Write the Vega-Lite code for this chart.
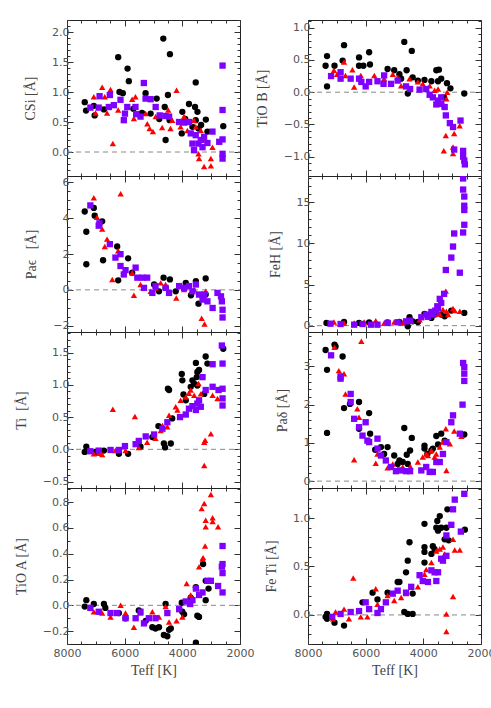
{
"$schema":"https://vega.github.io/schema/vega-lite/v6.json",
"padding":{"left":13,"top":13,"right":0,"bottom":0},
"background":"white",
"config":{
 "view":{"stroke":"#222","strokeWidth":1},
 "axis":{"domain":false,"grid":false,"labelFont":"DejaVu Sans","labelFontSize":11,"labelColor":"#555","labelFlush":false,"labelOverlap":false,"labelBound":false,"titleFont":"Liberation Serif","titleFontSize":14,"titleFontWeight":"normal","titleColor":"#444","tickColor":"#333","tickWidth":1},
 "axisX":{"labelPadding":9,"titlePadding":2},
 "axisY":{"labelPadding":4,"titlePadding":14}
},
"datasets":{
"csi":[
{"s":"A","t":7385,"v":0.83},{"s":"A","t":7340,"v":0.69},{"s":"A","t":7070,"v":0.77},{"s":"A","t":7040,"v":0.61},{"s":"A","t":6720,"v":0.71},{"s":"A","t":6225,"v":1.58},{"s":"A","t":6180,"v":1.0},{"s":"A","t":6065,"v":0.98},{"s":"A","t":5900,"v":1.39},{"s":"A","t":5855,"v":1.18},{"s":"A","t":5700,"v":0.72},{"s":"A","t":5400,"v":0.65},{"s":"A","t":5275,"v":0.98},{"s":"A","t":5100,"v":0.64},{"s":"A","t":4890,"v":0.89},{"s":"A","t":4800,"v":0.55},{"s":"A","t":4660,"v":1.89},{"s":"A","t":4610,"v":0.75},{"s":"A","t":4580,"v":0.2},{"s":"A","t":4500,"v":0.95},{"s":"A","t":4440,"v":0.53},{"s":"A","t":4430,"v":1.63},{"s":"A","t":4020,"v":0.31},{"s":"A","t":4000,"v":0.67},{"s":"A","t":3900,"v":0.55},{"s":"A","t":3770,"v":0.8},{"s":"A","t":3650,"v":0.42},{"s":"A","t":3560,"v":0.75},{"s":"A","t":3535,"v":1.16},{"s":"A","t":3535,"v":0.53},{"s":"A","t":3475,"v":0.67},{"s":"A","t":3440,"v":0.39},{"s":"A","t":3350,"v":0.45},{"s":"A","t":3185,"v":0.54},{"s":"A","t":3130,"v":0.34},{"s":"A","t":2580,"v":0.43},
{"s":"B","t":7070,"v":0.92},{"s":"B","t":7010,"v":0.65},{"s":"B","t":6780,"v":1.08},{"s":"B","t":6690,"v":0.92},{"s":"B","t":6610,"v":0.65},{"s":"B","t":6490,"v":1.04},{"s":"B","t":6410,"v":0.14},{"s":"B","t":6225,"v":0.7},{"s":"B","t":5740,"v":0.88},{"s":"B","t":5680,"v":0.56},{"s":"B","t":5625,"v":0.92},{"s":"B","t":5275,"v":0.64},{"s":"B","t":5215,"v":0.47},{"s":"B","t":5135,"v":0.39},{"s":"B","t":5020,"v":0.34},{"s":"B","t":4925,"v":0.59},{"s":"B","t":4810,"v":0.61},{"s":"B","t":4700,"v":0.41},{"s":"B","t":4490,"v":0.7},{"s":"B","t":4410,"v":0.39},{"s":"B","t":4350,"v":0.53},{"s":"B","t":4200,"v":1.03},{"s":"B","t":4060,"v":0.42},{"s":"B","t":3940,"v":0.59},{"s":"B","t":3825,"v":0.36},{"s":"B","t":3595,"v":0.53},{"s":"B","t":3535,"v":0.42},{"s":"B","t":3440,"v":-0.03},{"s":"B","t":3420,"v":-0.11},{"s":"B","t":3360,"v":0.36},{"s":"B","t":3280,"v":0.2},{"s":"B","t":3245,"v":-0.24},{"s":"B","t":3010,"v":-0.23},{"s":"B","t":3010,"v":-0.11},{"s":"B","t":2955,"v":0.08},
{"s":"C","t":7190,"v":0.74},{"s":"C","t":6900,"v":0.74},{"s":"C","t":6870,"v":0.93},{"s":"C","t":6550,"v":0.75},{"s":"C","t":6515,"v":0.95},{"s":"C","t":6375,"v":0.78},{"s":"C","t":6145,"v":0.87},{"s":"C","t":6030,"v":0.53},{"s":"C","t":5990,"v":0.64},{"s":"C","t":5910,"v":0.75},{"s":"C","t":5625,"v":0.75},{"s":"C","t":5600,"v":0.63},{"s":"C","t":5450,"v":0.59},{"s":"C","t":5335,"v":1.15},{"s":"C","t":5275,"v":0.89},{"s":"C","t":5100,"v":0.88},{"s":"C","t":4925,"v":0.75},{"s":"C","t":4785,"v":0.61},{"s":"C","t":4580,"v":0.6},{"s":"C","t":4460,"v":0.59},{"s":"C","t":4115,"v":0.5},{"s":"C","t":3940,"v":0.49},{"s":"C","t":3770,"v":0.5},{"s":"C","t":3710,"v":0.31},{"s":"C","t":3650,"v":0.14},{"s":"C","t":3595,"v":0.03},{"s":"C","t":3535,"v":0.28},{"s":"C","t":3440,"v":0.14},{"s":"C","t":3360,"v":0.2},{"s":"C","t":3300,"v":0.08},{"s":"C","t":3245,"v":0.25},{"s":"C","t":3130,"v":0.15},{"s":"C","t":2955,"v":0.34},{"s":"C","t":2720,"v":0.17},{"s":"C","t":2605,"v":-0.03},{"s":"C","t":2605,"v":-0.11},{"s":"C","t":2605,"v":0.21},{"s":"C","t":2605,"v":0.7},{"s":"C","t":2605,"v":1.44}
],
"tiob":[
{"s":"A","t":7390,"v":0.41},{"s":"A","t":7340,"v":0.56},{"s":"A","t":7340,"v":0.09},{"s":"A","t":7080,"v":0.41},{"s":"A","t":6800,"v":0.49},{"s":"A","t":6750,"v":0.73},{"s":"A","t":6230,"v":0.54},{"s":"A","t":6230,"v":0.41},{"s":"A","t":6080,"v":0.41},{"s":"A","t":5880,"v":0.62},{"s":"A","t":5850,"v":0.43},{"s":"A","t":5240,"v":0.36},{"s":"A","t":5010,"v":0.34},{"s":"A","t":4830,"v":0.28},{"s":"A","t":4770,"v":0.21},{"s":"A","t":4660,"v":0.78},{"s":"A","t":4580,"v":0.34},{"s":"A","t":4540,"v":-0.02},{"s":"A","t":4400,"v":0.64},{"s":"A","t":4370,"v":0.23},{"s":"A","t":4190,"v":0.18},{"s":"A","t":3960,"v":0.19},{"s":"A","t":3720,"v":0.17},{"s":"A","t":3550,"v":0.34},{"s":"A","t":3490,"v":0.17},{"s":"A","t":3460,"v":0.35},{"s":"A","t":3380,"v":0.21},{"s":"A","t":3280,"v":-0.08},{"s":"A","t":3180,"v":0.14},{"s":"A","t":3060,"v":0.06},{"s":"A","t":2580,"v":-0.02},
{"s":"B","t":7100,"v":0.34},{"s":"B","t":6990,"v":0.28},{"s":"B","t":6750,"v":0.47},{"s":"B","t":6700,"v":0.26},{"s":"B","t":6460,"v":0.35},{"s":"B","t":6400,"v":0.08},{"s":"B","t":6170,"v":0.26},{"s":"B","t":5700,"v":0.26},{"s":"B","t":5360,"v":0.21},{"s":"B","t":5060,"v":0.28},{"s":"B","t":4890,"v":0.23},{"s":"B","t":4770,"v":0.1},{"s":"B","t":4480,"v":0.21},{"s":"B","t":4190,"v":0.16},{"s":"B","t":4020,"v":0.13},{"s":"B","t":3780,"v":0.1},{"s":"B","t":3610,"v":0.03},{"s":"B","t":3490,"v":0.05},{"s":"B","t":3380,"v":-0.08},{"s":"B","t":3280,"v":-0.21},{"s":"B","t":3290,"v":-0.91},{"s":"B","t":3220,"v":-0.67},{"s":"B","t":3200,"v":-0.1},{"s":"B","t":3170,"v":0.0},{"s":"B","t":2970,"v":-0.85},{"s":"B","t":2970,"v":-0.95},{"s":"B","t":2930,"v":-0.64},{"s":"B","t":2740,"v":-0.52},
{"s":"C","t":7200,"v":0.25},{"s":"C","t":6870,"v":0.31},{"s":"C","t":6870,"v":0.21},{"s":"C","t":6520,"v":0.21},{"s":"C","t":6230,"v":0.21},{"s":"C","t":6150,"v":0.16},{"s":"C","t":6000,"v":0.09},{"s":"C","t":5880,"v":0.16},{"s":"C","t":5590,"v":0.17},{"s":"C","t":5380,"v":0.13},{"s":"C","t":5360,"v":0.26},{"s":"C","t":5120,"v":0.13},{"s":"C","t":4890,"v":0.18},{"s":"C","t":4600,"v":0.09},{"s":"C","t":4460,"v":0.05},{"s":"C","t":4130,"v":0.04},{"s":"C","t":3900,"v":0.05},{"s":"C","t":3780,"v":-0.04},{"s":"C","t":3670,"v":-0.08},{"s":"C","t":3550,"v":-0.19},{"s":"C","t":3490,"v":-0.13},{"s":"C","t":3380,"v":-0.18},{"s":"C","t":3380,"v":-0.08},{"s":"C","t":3260,"v":-0.23},{"s":"C","t":3220,"v":-0.36},{"s":"C","t":3080,"v":-0.48},{"s":"C","t":2970,"v":-0.54},{"s":"C","t":2930,"v":-0.89},{"s":"C","t":2710,"v":-0.44},{"s":"C","t":2620,"v":-0.91},{"s":"C","t":2620,"v":-1.0},{"s":"C","t":2580,"v":-1.06},{"s":"C","t":2560,"v":-1.12}
],
"pae":[
{"s":"A","t":7385,"v":4.37},{"s":"A","t":7330,"v":3.24},{"s":"A","t":7330,"v":1.43},{"s":"A","t":7070,"v":4.57},{"s":"A","t":7040,"v":4.14},{"s":"A","t":6780,"v":3.82},{"s":"A","t":6750,"v":1.65},{"s":"A","t":6260,"v":2.42},{"s":"A","t":6225,"v":0.53},{"s":"A","t":5880,"v":1.76},{"s":"A","t":5740,"v":0.96},{"s":"A","t":4980,"v":0.3},{"s":"A","t":4810,"v":-0.08},{"s":"A","t":4650,"v":0.68},{"s":"A","t":4580,"v":0.11},{"s":"A","t":4430,"v":0.58},{"s":"A","t":4230,"v":-0.08},{"s":"A","t":3880,"v":0.39},{"s":"A","t":3700,"v":-0.3},{"s":"A","t":3530,"v":0.49},{"s":"A","t":3440,"v":-0.77},{"s":"A","t":3190,"v":0.64},{"s":"A","t":3190,"v":-0.26},
{"s":"B","t":7070,"v":5.14},{"s":"B","t":6960,"v":4.05},{"s":"B","t":6780,"v":3.39},{"s":"B","t":6690,"v":2.42},{"s":"B","t":6610,"v":2.83},{"s":"B","t":6430,"v":0.58},{"s":"B","t":6225,"v":2.18},{"s":"B","t":6140,"v":5.36},{"s":"B","t":5740,"v":0.96},{"s":"B","t":5680,"v":-0.3},{"s":"B","t":5450,"v":0.3},{"s":"B","t":5100,"v":-0.08},{"s":"B","t":4930,"v":0.11},{"s":"B","t":4750,"v":0.39},{"s":"B","t":4580,"v":0.3},{"s":"B","t":4210,"v":-0.45},{"s":"B","t":3940,"v":0.02},{"s":"B","t":3590,"v":0.02},{"s":"B","t":3420,"v":-0.26},{"s":"B","t":3330,"v":-1.58},{"s":"B","t":3230,"v":-1.91},{"s":"B","t":3190,"v":-0.08},
{"s":"C","t":7190,"v":4.71},{"s":"C","t":6900,"v":3.58},{"s":"C","t":6875,"v":3.71},{"s":"C","t":6515,"v":2.55},{"s":"C","t":6320,"v":1.8},{"s":"C","t":6145,"v":1.99},{"s":"C","t":6145,"v":1.33},{"s":"C","t":6030,"v":0.86},{"s":"C","t":5970,"v":1.1},{"s":"C","t":5620,"v":1.24},{"s":"C","t":5560,"v":0.68},{"s":"C","t":5390,"v":0.68},{"s":"C","t":5330,"v":0.11},{"s":"C","t":5220,"v":0.68},{"s":"C","t":5040,"v":-0.17},{"s":"C","t":4930,"v":0.21},{"s":"C","t":4580,"v":0.11},{"s":"C","t":4460,"v":-0.17},{"s":"C","t":4110,"v":0.21},{"s":"C","t":3940,"v":0.11},{"s":"C","t":3770,"v":0.21},{"s":"C","t":3650,"v":-0.08},{"s":"C","t":3530,"v":0.3},{"s":"C","t":3420,"v":-0.26},{"s":"C","t":3300,"v":-0.54},{"s":"C","t":3240,"v":-0.26},{"s":"C","t":3130,"v":-0.64},{"s":"C","t":2950,"v":-1.01},{"s":"C","t":2780,"v":-0.17},{"s":"C","t":2660,"v":-0.36},{"s":"C","t":2630,"v":-0.64},{"s":"C","t":2605,"v":-1.11},{"s":"C","t":2605,"v":-1.54}
],
"feh":[
{"s":"A","t":7360,"v":0.33},{"s":"A","t":6750,"v":0.45},{"s":"A","t":6230,"v":0.33},{"s":"A","t":5880,"v":0.41},{"s":"A","t":5240,"v":0.41},{"s":"A","t":4830,"v":0.45},{"s":"A","t":4540,"v":-0.08},{"s":"A","t":4480,"v":1.02},{"s":"A","t":4370,"v":0.53},{"s":"A","t":4190,"v":0.45},{"s":"A","t":3960,"v":1.43},{"s":"A","t":3720,"v":0.94},{"s":"A","t":3610,"v":1.35},{"s":"A","t":3380,"v":1.35},{"s":"A","t":3260,"v":1.14},{"s":"A","t":3030,"v":1.83},{"s":"A","t":2580,"v":1.55},
{"s":"B","t":7100,"v":0.45},{"s":"B","t":6750,"v":0.33},{"s":"B","t":6400,"v":0.33},{"s":"B","t":6055,"v":0.45},{"s":"B","t":5650,"v":0.61},{"s":"B","t":5360,"v":0.33},{"s":"B","t":5010,"v":0.45},{"s":"B","t":4715,"v":0.33},{"s":"B","t":4420,"v":0.53},{"s":"B","t":4130,"v":0.73},{"s":"B","t":3840,"v":1.02},{"s":"B","t":3610,"v":1.35},{"s":"B","t":3430,"v":1.43},{"s":"B","t":3320,"v":1.96},{"s":"B","t":3220,"v":4.2},{"s":"B","t":3200,"v":1.75},{"s":"B","t":3140,"v":1.35},{"s":"B","t":2970,"v":2.08},{"s":"B","t":2910,"v":1.83},{"s":"B","t":2735,"v":1.75},
{"s":"C","t":7220,"v":0.24},{"s":"C","t":6870,"v":0.2},{"s":"C","t":6400,"v":0.12},{"s":"C","t":6110,"v":0.2},{"s":"C","t":5820,"v":0.12},{"s":"C","t":5590,"v":0.12},{"s":"C","t":5240,"v":0.33},{"s":"C","t":4890,"v":0.41},{"s":"C","t":4600,"v":0.53},{"s":"C","t":4460,"v":0.61},{"s":"C","t":4070,"v":1.02},{"s":"C","t":3900,"v":1.35},{"s":"C","t":3840,"v":1.14},{"s":"C","t":3720,"v":1.67},{"s":"C","t":3670,"v":1.43},{"s":"C","t":3585,"v":1.83},{"s":"C","t":3550,"v":1.75},{"s":"C","t":3515,"v":2.36},{"s":"C","t":3490,"v":2.16},{"s":"C","t":3430,"v":3.26},{"s":"C","t":3380,"v":2.77},{"s":"C","t":3280,"v":3.87},{"s":"C","t":3220,"v":6.77},{"s":"C","t":3030,"v":8.28},{"s":"C","t":2970,"v":9.62},{"s":"C","t":2930,"v":11.21},{"s":"C","t":2735,"v":6.44},{"s":"C","t":2620,"v":11.33},{"s":"C","t":2580,"v":12.27},{"s":"C","t":2580,"v":14.06},{"s":"C","t":2580,"v":14.59},{"s":"C","t":2580,"v":15.7},{"s":"C","t":2620,"v":16.55},{"s":"C","t":2620,"v":17.9}
],
"ti":[
{"s":"A","t":7385,"v":-0.04},{"s":"A","t":7330,"v":0.04},{"s":"A","t":7010,"v":-0.04},{"s":"A","t":6720,"v":-0.02},{"s":"A","t":6200,"v":-0.07},{"s":"A","t":5880,"v":-0.07},{"s":"A","t":5450,"v":0.04},{"s":"A","t":5040,"v":0.19},{"s":"A","t":4830,"v":0.36},{"s":"A","t":4640,"v":0.09},{"s":"A","t":4600,"v":0.03},{"s":"A","t":4500,"v":0.94},{"s":"A","t":4460,"v":0.92},{"s":"A","t":4400,"v":0.09},{"s":"A","t":4350,"v":0.48},{"s":"A","t":4020,"v":1.17},{"s":"A","t":4000,"v":1.07},{"s":"A","t":3960,"v":0.85},{"s":"A","t":3880,"v":0.76},{"s":"A","t":3710,"v":0.97},{"s":"A","t":3650,"v":1.07},{"s":"A","t":3590,"v":1.02},{"s":"A","t":3530,"v":1.34},{"s":"A","t":3500,"v":1.12},{"s":"A","t":3480,"v":0.99},{"s":"A","t":3480,"v":1.2},{"s":"A","t":3420,"v":1.23},{"s":"A","t":3240,"v":0.86},{"s":"A","t":3190,"v":1.44},{"s":"A","t":3130,"v":1.33},{"s":"A","t":2580,"v":1.56},
{"s":"B","t":7070,"v":-0.07},{"s":"B","t":6900,"v":-0.06},{"s":"B","t":6780,"v":-0.08},{"s":"B","t":6410,"v":0.62},{"s":"B","t":6320,"v":-0.02},{"s":"B","t":5970,"v":-0.02},{"s":"B","t":5645,"v":0.51},{"s":"B","t":5510,"v":0.03},{"s":"B","t":5220,"v":0.11},{"s":"B","t":4930,"v":0.17},{"s":"B","t":4750,"v":0.29},{"s":"B","t":4690,"v":0.37},{"s":"B","t":4520,"v":0.35},{"s":"B","t":4460,"v":0.53},{"s":"B","t":4230,"v":0.66},{"s":"B","t":4170,"v":0.61},{"s":"B","t":4060,"v":0.76},{"s":"B","t":3880,"v":0.81},{"s":"B","t":3770,"v":0.87},{"s":"B","t":3710,"v":0.92},{"s":"B","t":3590,"v":0.84},{"s":"B","t":3440,"v":1.02},{"s":"B","t":3360,"v":0.86},{"s":"B","t":3240,"v":0.11},{"s":"B","t":3210,"v":0.14},{"s":"B","t":3240,"v":-0.25},{"s":"B","t":3010,"v":0.24},{"s":"B","t":2950,"v":0.84},{"s":"B","t":2780,"v":0.79},
{"s":"C","t":7190,"v":-0.03},{"s":"C","t":6900,"v":-0.02},{"s":"C","t":6490,"v":-0.01},{"s":"C","t":6200,"v":-0.01},{"s":"C","t":5990,"v":0.05},{"s":"C","t":5620,"v":0.08},{"s":"C","t":5510,"v":0.13},{"s":"C","t":5270,"v":0.2},{"s":"C","t":4980,"v":0.23},{"s":"C","t":4690,"v":0.32},{"s":"C","t":4520,"v":0.42},{"s":"C","t":4080,"v":0.5},{"s":"C","t":3880,"v":0.54},{"s":"C","t":3770,"v":0.63},{"s":"C","t":3650,"v":0.67},{"s":"C","t":3530,"v":0.61},{"s":"C","t":3480,"v":0.71},{"s":"C","t":3420,"v":0.76},{"s":"C","t":3360,"v":0.66},{"s":"C","t":3300,"v":1.12},{"s":"C","t":3190,"v":0.92},{"s":"C","t":2950,"v":1.32},{"s":"C","t":2950,"v":0.97},{"s":"C","t":2745,"v":0.92},{"s":"C","t":2630,"v":1.61},{"s":"C","t":2605,"v":1.33},{"s":"C","t":2605,"v":0.94},{"s":"C","t":2605,"v":0.79},{"s":"C","t":2605,"v":0.68}
],
"pad":[
{"s":"A","t":7390,"v":3.43},{"s":"A","t":7340,"v":2.91},{"s":"A","t":7340,"v":1.26},{"s":"A","t":7080,"v":3.57},{"s":"A","t":7045,"v":3.52},{"s":"A","t":6800,"v":3.26},{"s":"A","t":6750,"v":1.91},{"s":"A","t":6545,"v":2.02},{"s":"A","t":6230,"v":2.07},{"s":"A","t":6230,"v":1.37},{"s":"A","t":5880,"v":1.78},{"s":"A","t":5845,"v":1.24},{"s":"A","t":5670,"v":0.82},{"s":"A","t":5470,"v":0.89},{"s":"A","t":5360,"v":0.71},{"s":"A","t":5240,"v":0.89},{"s":"A","t":5010,"v":0.67},{"s":"A","t":4890,"v":0.45},{"s":"A","t":4830,"v":0.54},{"s":"A","t":4715,"v":0.5},{"s":"A","t":4660,"v":1.39},{"s":"A","t":4575,"v":0.69},{"s":"A","t":4540,"v":0.45},{"s":"A","t":4460,"v":0.8},{"s":"A","t":4400,"v":1.13},{"s":"A","t":3960,"v":0.93},{"s":"A","t":3960,"v":0.85},{"s":"A","t":3860,"v":0.71},{"s":"A","t":3720,"v":0.8},{"s":"A","t":3670,"v":0.85},{"s":"A","t":3550,"v":1.18},{"s":"A","t":3490,"v":0.96},{"s":"A","t":3380,"v":1.24},{"s":"A","t":3260,"v":1.06},{"s":"A","t":2580,"v":1.22},
{"s":"B","t":7080,"v":3.5},{"s":"B","t":6930,"v":2.89},{"s":"B","t":6870,"v":2.72},{"s":"B","t":6750,"v":2.81},{"s":"B","t":6700,"v":2.28},{"s":"B","t":6400,"v":0.56},{"s":"B","t":6290,"v":1.89},{"s":"B","t":6230,"v":1.67},{"s":"B","t":6150,"v":3.66},{"s":"B","t":5650,"v":0.47},{"s":"B","t":5590,"v":0.71},{"s":"B","t":5240,"v":0.35},{"s":"B","t":5060,"v":0.45},{"s":"B","t":4890,"v":0.32},{"s":"B","t":4715,"v":0.37},{"s":"B","t":4450,"v":0.38},{"s":"B","t":4190,"v":0.5},{"s":"B","t":4020,"v":0.63},{"s":"B","t":3900,"v":0.71},{"s":"B","t":3840,"v":0.67},{"s":"B","t":3720,"v":0.8},{"s":"B","t":3610,"v":0.63},{"s":"B","t":3550,"v":0.71},{"s":"B","t":3430,"v":0.89},{"s":"B","t":3320,"v":1.02},{"s":"B","t":3220,"v":1.37},{"s":"B","t":3200,"v":0.28},{"s":"B","t":3080,"v":0.98},{"s":"B","t":2930,"v":1.31},{"s":"B","t":2680,"v":1.17},
{"s":"C","t":7200,"v":3.29},{"s":"C","t":6870,"v":2.74},{"s":"C","t":6870,"v":2.68},{"s":"C","t":6520,"v":2.28},{"s":"C","t":6520,"v":2.07},{"s":"C","t":6400,"v":1.63},{"s":"C","t":6230,"v":1.41},{"s":"C","t":6110,"v":1.19},{"s":"C","t":6000,"v":1.54},{"s":"C","t":5940,"v":1.06},{"s":"C","t":5880,"v":1.02},{"s":"C","t":5590,"v":1.11},{"s":"C","t":5590,"v":0.85},{"s":"C","t":5470,"v":0.67},{"s":"C","t":5300,"v":0.54},{"s":"C","t":5120,"v":0.37},{"s":"C","t":4950,"v":0.26},{"s":"C","t":4770,"v":0.28},{"s":"C","t":4600,"v":0.26},{"s":"C","t":4460,"v":0.26},{"s":"C","t":4070,"v":0.28},{"s":"C","t":3900,"v":0.37},{"s":"C","t":3780,"v":0.24},{"s":"C","t":3670,"v":0.24},{"s":"C","t":3550,"v":0.5},{"s":"C","t":3430,"v":0.5},{"s":"C","t":3320,"v":0.71},{"s":"C","t":3200,"v":1.02},{"s":"C","t":3030,"v":1.54},{"s":"C","t":2970,"v":1.72},{"s":"C","t":2735,"v":1.24},{"s":"C","t":2640,"v":2.0},{"s":"C","t":2620,"v":3.09},{"s":"C","t":2580,"v":2.98},{"s":"C","t":2580,"v":2.81},{"s":"C","t":2580,"v":2.62}
],
"tioa":[
{"s":"A","t":7385,"v":-0.01},{"s":"A","t":7330,"v":0.04},{"s":"A","t":7070,"v":0.01},{"s":"A","t":6720,"v":0.01},{"s":"A","t":6670,"v":-0.02},{"s":"A","t":6200,"v":-0.06},{"s":"A","t":5970,"v":-0.1},{"s":"A","t":5510,"v":-0.04},{"s":"A","t":5270,"v":-0.12},{"s":"A","t":5040,"v":-0.17},{"s":"A","t":4930,"v":-0.18},{"s":"A","t":4810,"v":-0.17},{"s":"A","t":4640,"v":-0.23},{"s":"A","t":4580,"v":0.01},{"s":"A","t":4520,"v":-0.24},{"s":"A","t":4460,"v":-0.19},{"s":"A","t":4400,"v":-0.18},{"s":"A","t":4020,"v":0.02},{"s":"A","t":4000,"v":-0.05},{"s":"A","t":3940,"v":-0.07},{"s":"A","t":3710,"v":0.06},{"s":"A","t":3530,"v":0.14},{"s":"A","t":3530,"v":-0.29},{"s":"A","t":3480,"v":-0.08},{"s":"A","t":3420,"v":-0.09},{"s":"A","t":3280,"v":0.32},{"s":"A","t":3190,"v":0.19},{"s":"A","t":3190,"v":0.04},{"s":"A","t":3090,"v":0.13},
{"s":"B","t":7070,"v":-0.05},{"s":"B","t":6780,"v":-0.06},{"s":"B","t":6490,"v":-0.09},{"s":"B","t":6140,"v":0.0},{"s":"B","t":5970,"v":-0.06},{"s":"B","t":5680,"v":-0.17},{"s":"B","t":5450,"v":-0.06},{"s":"B","t":5040,"v":-0.05},{"s":"B","t":4810,"v":-0.09},{"s":"B","t":4580,"v":-0.01},{"s":"B","t":4460,"v":-0.13},{"s":"B","t":4200,"v":-0.12},{"s":"B","t":4000,"v":-0.09},{"s":"B","t":3850,"v":0.17},{"s":"B","t":3710,"v":0.08},{"s":"B","t":3530,"v":0.14},{"s":"B","t":3420,"v":0.3},{"s":"B","t":3330,"v":0.75},{"s":"B","t":3300,"v":0.36},{"s":"B","t":3280,"v":0.37},{"s":"B","t":3240,"v":0.79},{"s":"B","t":3210,"v":0.46},{"s":"B","t":3190,"v":0.66},{"s":"B","t":3190,"v":0.61},{"s":"B","t":3010,"v":0.86},{"s":"B","t":2950,"v":0.68},{"s":"B","t":2950,"v":0.65},{"s":"B","t":2760,"v":0.61},
{"s":"C","t":7190,"v":-0.02},{"s":"C","t":6900,"v":-0.05},{"s":"C","t":6490,"v":-0.06},{"s":"C","t":6260,"v":-0.06},{"s":"C","t":5970,"v":-0.1},{"s":"C","t":5620,"v":-0.1},{"s":"C","t":5450,"v":-0.05},{"s":"C","t":5330,"v":-0.14},{"s":"C","t":5160,"v":-0.1},{"s":"C","t":4930,"v":-0.1},{"s":"C","t":4520,"v":-0.06},{"s":"C","t":4110,"v":-0.03},{"s":"C","t":3880,"v":0.03},{"s":"C","t":3730,"v":0.01},{"s":"C","t":3650,"v":0.04},{"s":"C","t":3530,"v":0.13},{"s":"C","t":3420,"v":0.08},{"s":"C","t":3300,"v":0.1},{"s":"C","t":3130,"v":0.19},{"s":"C","t":3010,"v":0.19},{"s":"C","t":2760,"v":0.15},{"s":"C","t":2630,"v":0.3},{"s":"C","t":2605,"v":0.1},{"s":"C","t":2605,"v":0.25},{"s":"C","t":2605,"v":0.32},{"s":"C","t":2605,"v":0.46}
],
"feti":[
{"s":"A","t":7390,"v":-0.02},{"s":"A","t":7340,"v":0.01},{"s":"A","t":7340,"v":-0.04},{"s":"A","t":7080,"v":-0.08},{"s":"A","t":6750,"v":-0.11},{"s":"A","t":6110,"v":0.13},{"s":"A","t":5760,"v":0.23},{"s":"A","t":5590,"v":0.16},{"s":"A","t":5240,"v":0.23},{"s":"A","t":4890,"v":0.34},{"s":"A","t":4830,"v":0.34},{"s":"A","t":4660,"v":0.03},{"s":"A","t":4600,"v":0.44},{"s":"A","t":4540,"v":0.56},{"s":"A","t":4540,"v":0.01},{"s":"A","t":4480,"v":0.75},{"s":"A","t":4370,"v":0.01},{"s":"A","t":4370,"v":0.22},{"s":"A","t":3960,"v":0.94},{"s":"A","t":3960,"v":0.7},{"s":"A","t":3960,"v":0.65},{"s":"A","t":3960,"v":0.54},{"s":"A","t":3720,"v":0.63},{"s":"A","t":3670,"v":0.71},{"s":"A","t":3610,"v":0.68},{"s":"A","t":3550,"v":0.9},{"s":"A","t":3515,"v":0.97},{"s":"A","t":3490,"v":0.87},{"s":"A","t":3430,"v":1.02},{"s":"A","t":3380,"v":0.9},{"s":"A","t":3260,"v":0.78},{"s":"A","t":3200,"v":0.9},{"s":"A","t":3165,"v":1.09},{"s":"A","t":3120,"v":0.77},{"s":"A","t":2560,"v":0.88},
{"s":"B","t":7130,"v":-0.04},{"s":"B","t":7045,"v":0.03},{"s":"B","t":6750,"v":0.06},{"s":"B","t":6580,"v":-0.04},{"s":"B","t":6430,"v":0.38},{"s":"B","t":6170,"v":-0.02},{"s":"B","t":5940,"v":-0.02},{"s":"B","t":5650,"v":0.27},{"s":"B","t":5590,"v":0.11},{"s":"B","t":5240,"v":0.2},{"s":"B","t":5010,"v":0.15},{"s":"B","t":4770,"v":0.18},{"s":"B","t":4600,"v":0.22},{"s":"B","t":4420,"v":0.29},{"s":"B","t":4190,"v":0.29},{"s":"B","t":3960,"v":0.42},{"s":"B","t":3900,"v":0.47},{"s":"B","t":3720,"v":0.54},{"s":"B","t":3550,"v":0.66},{"s":"B","t":3430,"v":0.68},{"s":"B","t":3320,"v":0.7},{"s":"B","t":3260,"v":0.63},{"s":"B","t":3200,"v":-0.17},{"s":"B","t":3200,"v":0.01},{"s":"B","t":2970,"v":0.78},{"s":"B","t":2970,"v":0.19},{"s":"B","t":2910,"v":0.67},{"s":"B","t":2735,"v":0.67},
{"s":"C","t":7160,"v":-0.02},{"s":"C","t":6870,"v":0.01},{"s":"C","t":6520,"v":0.03},{"s":"C","t":6230,"v":0.04},{"s":"C","t":6000,"v":0.13},{"s":"C","t":5880,"v":0.06},{"s":"C","t":5590,"v":0.02},{"s":"C","t":5470,"v":0.06},{"s":"C","t":5300,"v":0.13},{"s":"C","t":5060,"v":0.22},{"s":"C","t":4890,"v":0.25},{"s":"C","t":4600,"v":0.23},{"s":"C","t":4420,"v":0.29},{"s":"C","t":4130,"v":0.41},{"s":"C","t":4020,"v":0.35},{"s":"C","t":3840,"v":0.34},{"s":"C","t":3720,"v":0.46},{"s":"C","t":3610,"v":0.44},{"s":"C","t":3550,"v":0.35},{"s":"C","t":3490,"v":0.44},{"s":"C","t":3380,"v":0.58},{"s":"C","t":3320,"v":0.56},{"s":"C","t":3200,"v":0.61},{"s":"C","t":3200,"v":0.82},{"s":"C","t":3030,"v":0.93},{"s":"C","t":2970,"v":1.09},{"s":"C","t":2910,"v":1.19},{"s":"C","t":2700,"v":0.86},{"s":"C","t":2580,"v":1.25}
]
},
"columns":2,
"spacing":{"row":0,"column":68},
"bounds":"flush",
"concat":[
{"width":173,"height":156,"data":{"name":"csi"},"resolve":{"axis":{"x":"independent","y":"independent"}},"layer":[
{"data":{"values":[{}]},"mark":{"type":"rule","strokeDash":[5,4],"color":"#888","strokeWidth":1},"encoding":{
"x":{"datum":8000,"type":"quantitative","scale":{"domain":[2000,8000],"reverse":true,"nice":false,"zero":false},"axis":{"orient":"top","values":[2000,2500,3000,3500,4000,4500,5000,5500,6000,6500,7000,7500,8000],"labels":false,"title":null,"tickSize":{"condition":{"test":"datum.value % 2000 === 0","value":-6},"value":-3}}},
"x2":{"datum":2000},
"y":{"datum":0,"type":"quantitative","scale":{"domain":[-0.4,2.2],"nice":false,"zero":false},"axis":{"orient":"right","values":[-0.4,-0.3,-0.2,-0.1,0,0.1,0.2,0.3,0.4,0.5,0.6,0.7,0.8,0.9,1.0,1.1,1.2,1.3,1.4,1.5,1.6,1.7,1.8,1.9,2.0,2.1,2.2],"labels":false,"title":null,"tickSize":{"condition":{"test":"abs(datum.value*2-round(datum.value*2))<1e-6","value":-6},"value":-3}}}}},
{"mark":{"type":"point","filled":true,"opacity":1,"size":40,"clip":true},"encoding":{
"x":{"field":"t","type":"quantitative","scale":{"domain":[2000,8000],"reverse":true,"nice":false,"zero":false},"axis":{"orient":"bottom","values":[2000,2500,3000,3500,4000,4500,5000,5500,6000,6500,7000,7500,8000],"labels":false,"title":null,"tickSize":{"condition":{"test":"datum.value % 2000 === 0","value":-6},"value":-3}}},
"y":{"field":"v","type":"quantitative","scale":{"domain":[-0.4,2.2],"nice":false,"zero":false},"axis":{"orient":"left","labelOverlap":false,"values":[-0.4,-0.3,-0.2,-0.1,0,0.1,0.2,0.3,0.4,0.5,0.6,0.7,0.8,0.9,1.0,1.1,1.2,1.3,1.4,1.5,1.6,1.7,1.8,1.9,2.0,2.1,2.2],"format":".1f","labelExpr":"abs(datum.value*2-round(datum.value*2))<1e-6 ? datum.label : ''","title":"CSi [Å]","tickSize":{"condition":{"test":"abs(datum.value*2-round(datum.value*2))<1e-6","value":-6},"value":-3}}},
"color":{"field":"s","type":"nominal","scale":{"domain":["A","B","C"],"range":["#000000","#ff0000","#7f00ff"]},"legend":null},
"shape":{"field":"s","type":"nominal","scale":{"domain":["A","B","C"],"range":["circle","triangle-up","square"]},"legend":null}}}
]},
{"width":173,"height":156,"data":{"name":"tiob"},"resolve":{"axis":{"x":"independent","y":"independent"}},"layer":[
{"data":{"values":[{}]},"mark":{"type":"rule","strokeDash":[5,4],"color":"#888","strokeWidth":1},"encoding":{
"x":{"datum":8000,"type":"quantitative","scale":{"domain":[2000,8000],"reverse":true,"nice":false,"zero":false},"axis":{"orient":"top","values":[2000,2500,3000,3500,4000,4500,5000,5500,6000,6500,7000,7500,8000],"labels":false,"title":null,"tickSize":{"condition":{"test":"datum.value % 2000 === 0","value":-6},"value":-3}}},
"x2":{"datum":2000},
"y":{"datum":0,"type":"quantitative","scale":{"domain":[-1.3,1.12],"nice":false,"zero":false},"axis":{"orient":"right","values":[-1.3,-1.2,-1.1,-1.0,-0.9,-0.8,-0.7,-0.6,-0.5,-0.4,-0.3,-0.2,-0.1,0,0.1,0.2,0.3,0.4,0.5,0.6,0.7,0.8,0.9,1.0,1.1],"labels":false,"title":null,"tickSize":{"condition":{"test":"abs(datum.value*2-round(datum.value*2))<1e-6","value":-6},"value":-3}}}}},
{"mark":{"type":"point","filled":true,"opacity":1,"size":40,"clip":true},"encoding":{
"x":{"field":"t","type":"quantitative","scale":{"domain":[2000,8000],"reverse":true,"nice":false,"zero":false},"axis":{"orient":"bottom","values":[2000,2500,3000,3500,4000,4500,5000,5500,6000,6500,7000,7500,8000],"labels":false,"title":null,"tickSize":{"condition":{"test":"datum.value % 2000 === 0","value":-6},"value":-3}}},
"y":{"field":"v","type":"quantitative","scale":{"domain":[-1.3,1.12],"nice":false,"zero":false},"axis":{"orient":"left","labelOverlap":false,"values":[-1.3,-1.2,-1.1,-1.0,-0.9,-0.8,-0.7,-0.6,-0.5,-0.4,-0.3,-0.2,-0.1,0,0.1,0.2,0.3,0.4,0.5,0.6,0.7,0.8,0.9,1.0,1.1],"format":".1f","labelExpr":"abs(datum.value*2-round(datum.value*2))<1e-6 ? datum.label : ''","title":"TiO B [Å]","tickSize":{"condition":{"test":"abs(datum.value*2-round(datum.value*2))<1e-6","value":-6},"value":-3}}},
"color":{"field":"s","type":"nominal","scale":{"domain":["A","B","C"],"range":["#000000","#ff0000","#7f00ff"]},"legend":null},
"shape":{"field":"s","type":"nominal","scale":{"domain":["A","B","C"],"range":["circle","triangle-up","square"]},"legend":null}}}
]},
{"width":173,"height":156,"data":{"name":"pae"},"resolve":{"axis":{"x":"independent","y":"independent"}},"layer":[
{"data":{"values":[{}]},"mark":{"type":"rule","strokeDash":[5,4],"color":"#888","strokeWidth":1},"encoding":{
"x":{"datum":8000,"type":"quantitative","scale":{"domain":[2000,8000],"reverse":true,"nice":false,"zero":false},"axis":{"orient":"top","values":[2000,2500,3000,3500,4000,4500,5000,5500,6000,6500,7000,7500,8000],"labels":false,"title":null,"tickSize":{"condition":{"test":"datum.value % 2000 === 0","value":-6},"value":-3}}},
"x2":{"datum":2000},
"y":{"datum":0,"type":"quantitative","scale":{"domain":[-2.35,6.35],"nice":false,"zero":false},"axis":{"orient":"right","values":[-2,-1.5,-1,-0.5,0,0.5,1,1.5,2,2.5,3,3.5,4,4.5,5,5.5,6],"labels":false,"title":null,"tickSize":{"condition":{"test":"datum.value % 2 === 0","value":-6},"value":-3}}}}},
{"mark":{"type":"point","filled":true,"opacity":1,"size":40,"clip":true},"encoding":{
"x":{"field":"t","type":"quantitative","scale":{"domain":[2000,8000],"reverse":true,"nice":false,"zero":false},"axis":{"orient":"bottom","values":[2000,2500,3000,3500,4000,4500,5000,5500,6000,6500,7000,7500,8000],"labels":false,"title":null,"tickSize":{"condition":{"test":"datum.value % 2000 === 0","value":-6},"value":-3}}},
"y":{"field":"v","type":"quantitative","scale":{"domain":[-2.35,6.35],"nice":false,"zero":false},"axis":{"orient":"left","labelOverlap":false,"values":[-2,-1.5,-1,-0.5,0,0.5,1,1.5,2,2.5,3,3.5,4,4.5,5,5.5,6],"labelExpr":"datum.value % 2 === 0 ? format(datum.value,'d') : ''","title":"Pa\u03f5\u00a0\u00a0\u00a0[Å]","tickSize":{"condition":{"test":"datum.value % 2 === 0","value":-6},"value":-3}}},
"color":{"field":"s","type":"nominal","scale":{"domain":["A","B","C"],"range":["#000000","#ff0000","#7f00ff"]},"legend":null},
"shape":{"field":"s","type":"nominal","scale":{"domain":["A","B","C"],"range":["circle","triangle-up","square"]},"legend":null}}}
]},
{"width":173,"height":156,"data":{"name":"feh"},"resolve":{"axis":{"x":"independent","y":"independent"}},"layer":[
{"data":{"values":[{}]},"mark":{"type":"rule","strokeDash":[5,4],"color":"#888","strokeWidth":1},"encoding":{
"x":{"datum":8000,"type":"quantitative","scale":{"domain":[2000,8000],"reverse":true,"nice":false,"zero":false},"axis":{"orient":"top","values":[2000,2500,3000,3500,4000,4500,5000,5500,6000,6500,7000,7500,8000],"labels":false,"title":null,"tickSize":{"condition":{"test":"datum.value % 2000 === 0","value":-6},"value":-3}}},
"x2":{"datum":2000},
"y":{"datum":0,"type":"quantitative","scale":{"domain":[-0.77,18.2],"nice":false,"zero":false},"axis":{"orient":"right","values":[0,1,2,3,4,5,6,7,8,9,10,11,12,13,14,15,16,17,18],"labels":false,"title":null,"tickSize":{"condition":{"test":"datum.value % 5 === 0","value":-6},"value":-3}}}}},
{"mark":{"type":"point","filled":true,"opacity":1,"size":40,"clip":true},"encoding":{
"x":{"field":"t","type":"quantitative","scale":{"domain":[2000,8000],"reverse":true,"nice":false,"zero":false},"axis":{"orient":"bottom","values":[2000,2500,3000,3500,4000,4500,5000,5500,6000,6500,7000,7500,8000],"labels":false,"title":null,"tickSize":{"condition":{"test":"datum.value % 2000 === 0","value":-6},"value":-3}}},
"y":{"field":"v","type":"quantitative","scale":{"domain":[-0.77,18.2],"nice":false,"zero":false},"axis":{"orient":"left","labelOverlap":false,"values":[0,1,2,3,4,5,6,7,8,9,10,11,12,13,14,15,16,17,18],"labelExpr":"datum.value % 5 === 0 ? format(datum.value,'d') : ''","title":"FeH [Å]","tickSize":{"condition":{"test":"datum.value % 5 === 0","value":-6},"value":-3}}},
"color":{"field":"s","type":"nominal","scale":{"domain":["A","B","C"],"range":["#000000","#ff0000","#7f00ff"]},"legend":null},
"shape":{"field":"s","type":"nominal","scale":{"domain":["A","B","C"],"range":["circle","triangle-up","square"]},"legend":null}}}
]},
{"width":173,"height":156,"data":{"name":"ti"},"resolve":{"axis":{"x":"independent","y":"independent"}},"layer":[
{"data":{"values":[{}]},"mark":{"type":"rule","strokeDash":[5,4],"color":"#888","strokeWidth":1},"encoding":{
"x":{"datum":8000,"type":"quantitative","scale":{"domain":[2000,8000],"reverse":true,"nice":false,"zero":false},"axis":{"orient":"top","values":[2000,2500,3000,3500,4000,4500,5000,5500,6000,6500,7000,7500,8000],"labels":false,"title":null,"tickSize":{"condition":{"test":"datum.value % 2000 === 0","value":-6},"value":-3}}},
"x2":{"datum":2000},
"y":{"datum":0,"type":"quantitative","scale":{"domain":[-0.6,1.82],"nice":false,"zero":false},"axis":{"orient":"right","values":[-0.6,-0.5,-0.4,-0.3,-0.2,-0.1,0,0.1,0.2,0.3,0.4,0.5,0.6,0.7,0.8,0.9,1.0,1.1,1.2,1.3,1.4,1.5,1.6,1.7,1.8],"labels":false,"title":null,"tickSize":{"condition":{"test":"abs(datum.value*2-round(datum.value*2))<1e-6","value":-6},"value":-3}}}}},
{"mark":{"type":"point","filled":true,"opacity":1,"size":40,"clip":true},"encoding":{
"x":{"field":"t","type":"quantitative","scale":{"domain":[2000,8000],"reverse":true,"nice":false,"zero":false},"axis":{"orient":"bottom","values":[2000,2500,3000,3500,4000,4500,5000,5500,6000,6500,7000,7500,8000],"labels":false,"title":null,"tickSize":{"condition":{"test":"datum.value % 2000 === 0","value":-6},"value":-3}}},
"y":{"field":"v","type":"quantitative","scale":{"domain":[-0.6,1.82],"nice":false,"zero":false},"axis":{"orient":"left","labelOverlap":false,"values":[-0.6,-0.5,-0.4,-0.3,-0.2,-0.1,0,0.1,0.2,0.3,0.4,0.5,0.6,0.7,0.8,0.9,1.0,1.1,1.2,1.3,1.4,1.5,1.6,1.7,1.8],"format":".1f","labelExpr":"abs(datum.value*2-round(datum.value*2))<1e-6 ? datum.label : ''","title":"Ti\u00a0\u00a0[Å]","tickSize":{"condition":{"test":"abs(datum.value*2-round(datum.value*2))<1e-6","value":-6},"value":-3}}},
"color":{"field":"s","type":"nominal","scale":{"domain":["A","B","C"],"range":["#000000","#ff0000","#7f00ff"]},"legend":null},
"shape":{"field":"s","type":"nominal","scale":{"domain":["A","B","C"],"range":["circle","triangle-up","square"]},"legend":null}}}
]},
{"width":173,"height":156,"data":{"name":"pad"},"resolve":{"axis":{"x":"independent","y":"independent"}},"layer":[
{"data":{"values":[{}]},"mark":{"type":"rule","strokeDash":[5,4],"color":"#888","strokeWidth":1},"encoding":{
"x":{"datum":8000,"type":"quantitative","scale":{"domain":[2000,8000],"reverse":true,"nice":false,"zero":false},"axis":{"orient":"top","values":[2000,2500,3000,3500,4000,4500,5000,5500,6000,6500,7000,7500,8000],"labels":false,"title":null,"tickSize":{"condition":{"test":"datum.value % 2000 === 0","value":-6},"value":-3}}},
"x2":{"datum":2000},
"y":{"datum":0,"type":"quantitative","scale":{"domain":[-0.18,3.9],"nice":false,"zero":false},"axis":{"orient":"right","values":[0,0.2,0.4,0.6,0.8,1,1.2,1.4,1.6,1.8,2,2.2,2.4,2.6,2.8,3,3.2,3.4,3.6,3.8],"labels":false,"title":null,"tickSize":{"condition":{"test":"abs(datum.value-round(datum.value))<1e-6","value":-6},"value":-3}}}}},
{"mark":{"type":"point","filled":true,"opacity":1,"size":40,"clip":true},"encoding":{
"x":{"field":"t","type":"quantitative","scale":{"domain":[2000,8000],"reverse":true,"nice":false,"zero":false},"axis":{"orient":"bottom","values":[2000,2500,3000,3500,4000,4500,5000,5500,6000,6500,7000,7500,8000],"labels":false,"title":null,"tickSize":{"condition":{"test":"datum.value % 2000 === 0","value":-6},"value":-3}}},
"y":{"field":"v","type":"quantitative","scale":{"domain":[-0.18,3.9],"nice":false,"zero":false},"axis":{"orient":"left","labelOverlap":false,"values":[0,0.2,0.4,0.6,0.8,1,1.2,1.4,1.6,1.8,2,2.2,2.4,2.6,2.8,3,3.2,3.4,3.6,3.8],"labelExpr":"abs(datum.value-round(datum.value))<1e-6 ? format(datum.value,'d') : ''","title":"Paδ [Å]","tickSize":{"condition":{"test":"abs(datum.value-round(datum.value))<1e-6","value":-6},"value":-3}}},
"color":{"field":"s","type":"nominal","scale":{"domain":["A","B","C"],"range":["#000000","#ff0000","#7f00ff"]},"legend":null},
"shape":{"field":"s","type":"nominal","scale":{"domain":["A","B","C"],"range":["circle","triangle-up","square"]},"legend":null}}}
]},
{"width":173,"height":156,"data":{"name":"tioa"},"resolve":{"axis":{"x":"independent","y":"independent"}},"layer":[
{"data":{"values":[{}]},"mark":{"type":"rule","strokeDash":[5,4],"color":"#888","strokeWidth":1},"encoding":{
"x":{"datum":8000,"type":"quantitative","scale":{"domain":[2000,8000],"reverse":true,"nice":false,"zero":false},"axis":{"orient":"top","values":[2000,2500,3000,3500,4000,4500,5000,5500,6000,6500,7000,7500,8000],"labels":false,"title":null,"tickSize":{"condition":{"test":"datum.value % 2000 === 0","value":-6},"value":-3}}},
"x2":{"datum":2000},
"y":{"datum":0,"type":"quantitative","scale":{"domain":[-0.3,0.91],"nice":false,"zero":false},"axis":{"orient":"right","values":[-0.3,-0.2,-0.1,0,0.1,0.2,0.3,0.4,0.5,0.6,0.7,0.8,0.9],"labels":false,"title":null,"tickSize":{"condition":{"test":"abs(datum.value*5-round(datum.value*5))<1e-6","value":-6},"value":-3}}}}},
{"mark":{"type":"point","filled":true,"opacity":1,"size":40,"clip":true},"encoding":{
"x":{"field":"t","type":"quantitative","scale":{"domain":[2000,8000],"reverse":true,"nice":false,"zero":false},"axis":{"orient":"bottom","labelOverlap":false,"values":[2000,2500,3000,3500,4000,4500,5000,5500,6000,6500,7000,7500,8000],"labelExpr":"datum.value % 2000 === 0 ? format(datum.value,'d') : ''","title":"Teff [K]","tickSize":{"condition":{"test":"datum.value % 2000 === 0","value":-6},"value":-3}}},
"y":{"field":"v","type":"quantitative","scale":{"domain":[-0.3,0.91],"nice":false,"zero":false},"axis":{"orient":"left","labelOverlap":false,"values":[-0.3,-0.2,-0.1,0,0.1,0.2,0.3,0.4,0.5,0.6,0.7,0.8,0.9],"format":".1f","labelExpr":"abs(datum.value*5-round(datum.value*5))<1e-6 ? datum.label : ''","title":"TiO A [Å]","tickSize":{"condition":{"test":"abs(datum.value*5-round(datum.value*5))<1e-6","value":-6},"value":-3}}},
"color":{"field":"s","type":"nominal","scale":{"domain":["A","B","C"],"range":["#000000","#ff0000","#7f00ff"]},"legend":null},
"shape":{"field":"s","type":"nominal","scale":{"domain":["A","B","C"],"range":["circle","triangle-up","square"]},"legend":null}}}
]},
{"width":173,"height":156,"data":{"name":"feti"},"resolve":{"axis":{"x":"independent","y":"independent"}},"layer":[
{"data":{"values":[{}]},"mark":{"type":"rule","strokeDash":[5,4],"color":"#888","strokeWidth":1},"encoding":{
"x":{"datum":8000,"type":"quantitative","scale":{"domain":[2000,8000],"reverse":true,"nice":false,"zero":false},"axis":{"orient":"top","values":[2000,2500,3000,3500,4000,4500,5000,5500,6000,6500,7000,7500,8000],"labels":false,"title":null,"tickSize":{"condition":{"test":"datum.value % 2000 === 0","value":-6},"value":-3}}},
"x2":{"datum":2000},
"y":{"datum":0,"type":"quantitative","scale":{"domain":[-0.3,1.31],"nice":false,"zero":false},"axis":{"orient":"right","values":[-0.3,-0.2,-0.1,0,0.1,0.2,0.3,0.4,0.5,0.6,0.7,0.8,0.9,1.0,1.1,1.2,1.3],"labels":false,"title":null,"tickSize":{"condition":{"test":"abs(datum.value*2-round(datum.value*2))<1e-6","value":-6},"value":-3}}}}},
{"mark":{"type":"point","filled":true,"opacity":1,"size":40,"clip":true},"encoding":{
"x":{"field":"t","type":"quantitative","scale":{"domain":[2000,8000],"reverse":true,"nice":false,"zero":false},"axis":{"orient":"bottom","labelOverlap":false,"values":[2000,2500,3000,3500,4000,4500,5000,5500,6000,6500,7000,7500,8000],"labelExpr":"datum.value % 2000 === 0 ? format(datum.value,'d') : ''","title":"Teff [K]","tickSize":{"condition":{"test":"datum.value % 2000 === 0","value":-6},"value":-3}}},
"y":{"field":"v","type":"quantitative","scale":{"domain":[-0.3,1.31],"nice":false,"zero":false},"axis":{"orient":"left","labelOverlap":false,"values":[-0.3,-0.2,-0.1,0,0.1,0.2,0.3,0.4,0.5,0.6,0.7,0.8,0.9,1.0,1.1,1.2,1.3],"format":".1f","labelExpr":"abs(datum.value*2-round(datum.value*2))<1e-6 ? datum.label : ''","title":"Fe Ti [Å]","tickSize":{"condition":{"test":"abs(datum.value*2-round(datum.value*2))<1e-6","value":-6},"value":-3}}},
"color":{"field":"s","type":"nominal","scale":{"domain":["A","B","C"],"range":["#000000","#ff0000","#7f00ff"]},"legend":null},
"shape":{"field":"s","type":"nominal","scale":{"domain":["A","B","C"],"range":["circle","triangle-up","square"]},"legend":null}}}
]}
]
}
